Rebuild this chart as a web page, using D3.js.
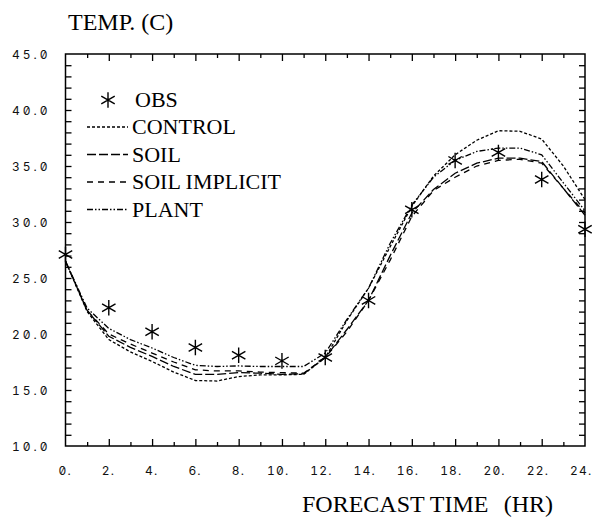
<!DOCTYPE html>
<html>
<head>
<meta charset="utf-8">
<script src="https://cdn.jsdelivr.net/npm/d3@7"></script>
<style>
body { margin: 0; background: #fff; }
.tick-label { font-family: Inter, 'DejaVu Sans Mono', monospace; font-size: 12px; font-feature-settings: "zero" 1, "tnum" 1; fill: #111; }
</style>
</head>
<body>
<svg id="chart" width="596" height="523"></svg>
<script>
// hours 0..24
var hours = d3.range(0, 25);
var obsHours = [0, 2, 4, 6, 8, 10, 12, 14, 16, 18, 20, 22, 24];
var obsTemp = [27.1, 22.35, 20.2, 18.8, 18.1, 17.6, 17.9, 23.0, 31.1, 35.5, 36.2, 33.8, 29.35];

var control = [26.5, 22.0, 19.5, 18.4, 17.55, 16.6, 15.85, 15.8, 16.2, 16.35, 16.35, 16.4, 17.9, 21.2, 24.1, 27.8, 31.4, 34.1, 36.0, 37.3, 38.15, 38.1, 37.4, 35.0, 32.0];
var soil = [26.5, 22.1, 19.8, 18.8, 18.0, 17.1, 16.4, 16.4, 16.55, 16.5, 16.4, 16.45, 17.9, 20.4, 23.0, 27.0, 30.8, 32.9, 34.35, 35.25, 35.7, 35.7, 35.4, 33.0, 30.6];
var soilImplicit = [26.5, 22.1, 20.0, 19.1, 18.3, 17.5, 16.8, 16.7, 16.7, 16.6, 16.55, 16.5, 17.9, 20.2, 23.0, 26.6, 30.5, 32.8, 34.0, 35.0, 35.5, 35.6, 35.25, 33.0, 30.8];
var plant = [26.5, 22.3, 20.5, 19.5, 18.75, 17.9, 17.2, 17.1, 17.15, 17.1, 17.1, 17.1, 18.3, 21.3, 24.1, 28.1, 31.5, 34.0, 35.5, 36.3, 36.6, 36.6, 36.0, 33.5, 31.0];

var seriesNames = ["CONTROL", "SOIL", "SOIL IMPLICIT", "PLANT"];
var seriesData = [control, soil, soilImplicit, plant];
var dashes = ["3,2", "9,3", "6,5", "6,2,1.5,2,1.5,2"];

var xTicks = d3.range(0, 25, 2);
var yTicks = [10, 15, 20, 25, 30, 35, 40, 45];

var vis = d3.select("#chart"),
    LEFT = 65.5, RIGHT = 585, TOP = 54, BOTTOM = 446;

var xScale = d3.scaleLinear().domain([0, 24]).range([LEFT, RIGHT]);
var yScale = d3.scaleLinear().domain([10, 45]).range([BOTTOM, TOP]);

var serif = "'Liberation Serif', 'Times New Roman', serif";

// frame
vis.append("rect")
    .attr("x", LEFT).attr("y", TOP)
    .attr("width", RIGHT - LEFT).attr("height", BOTTOM - TOP)
    .attr("fill", "none").attr("stroke", "#000").attr("stroke-width", 1.5);

function tickAxis(axis, tr) {
    var g = vis.append("g").attr("transform", tr).call(axis);
    g.select(".domain").remove();
    g.selectAll("line").attr("stroke", "#000").attr("stroke-width", 1.3);
    return g;
}

// x ticks, bottom and top (inward)
tickAxis(d3.axisBottom(xScale).tickValues(d3.range(1, 24, 2)).tickSize(-4).tickFormat(""), "translate(0," + BOTTOM + ")");
tickAxis(d3.axisBottom(xScale).tickValues(d3.range(2, 24, 2)).tickSize(-7).tickFormat(""), "translate(0," + BOTTOM + ")");
tickAxis(d3.axisTop(xScale).tickValues(d3.range(1, 24, 2)).tickSize(-4).tickFormat(""), "translate(0," + TOP + ")");
tickAxis(d3.axisTop(xScale).tickValues(d3.range(2, 24, 2)).tickSize(-7).tickFormat(""), "translate(0," + TOP + ")");

// y ticks, left and right (inward)
tickAxis(d3.axisLeft(yScale).tickValues(d3.range(11, 45)).tickSize(-6).tickFormat(""), "translate(" + LEFT + ",0)");
tickAxis(d3.axisRight(yScale).tickValues(d3.range(11, 45)).tickSize(-6).tickFormat(""), "translate(" + RIGHT + ",0)");

// x tick labels: digits end at the tick, dot follows
vis.selectAll(".xlab").data(xTicks).enter().append("text")
    .attr("class", "tick-label")
    .attr("x", function (d) { return xScale(d) - (String(d).length * 8) + 1; })
    .attr("y", 475)
    .style("letter-spacing", "1.2px")
    .text(function (d) { return d + "."; });

// y tick labels
vis.selectAll(".ylab").data(yTicks).enter().append("text")
    .attr("class", "tick-label")
    .attr("x", 12)
    .attr("y", function (d) { return yScale(d) + 5; })
    .style("letter-spacing", "3px")
    .text(function (d) { return d3.format(".1f")(d); });

// titles
vis.append("text").attr("x", 68).attr("y", 30)
    .style("font-family", serif).style("font-size", "24px")
    .text("TEMP. (C)");
vis.append("text").attr("x", 302).attr("y", 512)
    .style("font-family", serif).style("font-size", "24px")
    .text("FORECAST TIME");
vis.append("text").attr("x", 553).attr("y", 512)
    .attr("text-anchor", "end")
    .style("font-family", serif).style("font-size", "24px")
    .text("(HR)");

// model lines
var lineGen = d3.line()
    .x(function (d, i) { return xScale(hours[i]); })
    .y(function (d) { return yScale(d); });

seriesData.forEach(function (s, i) {
    vis.append("path")
        .attr("d", lineGen(s))
        .attr("fill", "none")
        .attr("stroke", "#000")
        .attr("stroke-width", 1.3)
        .attr("stroke-dasharray", dashes[i]);
});

// observations
var star = d3.symbol().type(d3.symbolAsterisk).size(170);
vis.selectAll(".obs").data(obsTemp).enter().append("path")
    .attr("transform", function (d, i) { return "translate(" + xScale(obsHours[i]) + "," + yScale(d) + ")"; })
    .attr("d", star)
    .attr("fill", "none").attr("stroke", "#000").attr("stroke-width", 1.4);

// legend
var leg = vis.append("g");
leg.append("path")
    .attr("transform", "translate(108,100)")
    .attr("d", star)
    .attr("fill", "none").attr("stroke", "#000").attr("stroke-width", 1.4);
leg.append("text").attr("x", 135).attr("y", 107)
    .style("font-family", serif).style("font-size", "22px")
    .text("OBS");

seriesNames.forEach(function (name, i) {
    var by = 134 + i * 27.5;
    leg.append("line")
        .attr("x1", 87).attr("x2", 128)
        .attr("y1", by - 7).attr("y2", by - 7)
        .attr("stroke", "#000").attr("stroke-width", 1.3)
        .attr("stroke-dasharray", dashes[i]);
    leg.append("text").attr("x", 132).attr("y", by)
        .style("font-family", serif).style("font-size", "22px")
        .text(name);
});
</script>
</body>
</html>
